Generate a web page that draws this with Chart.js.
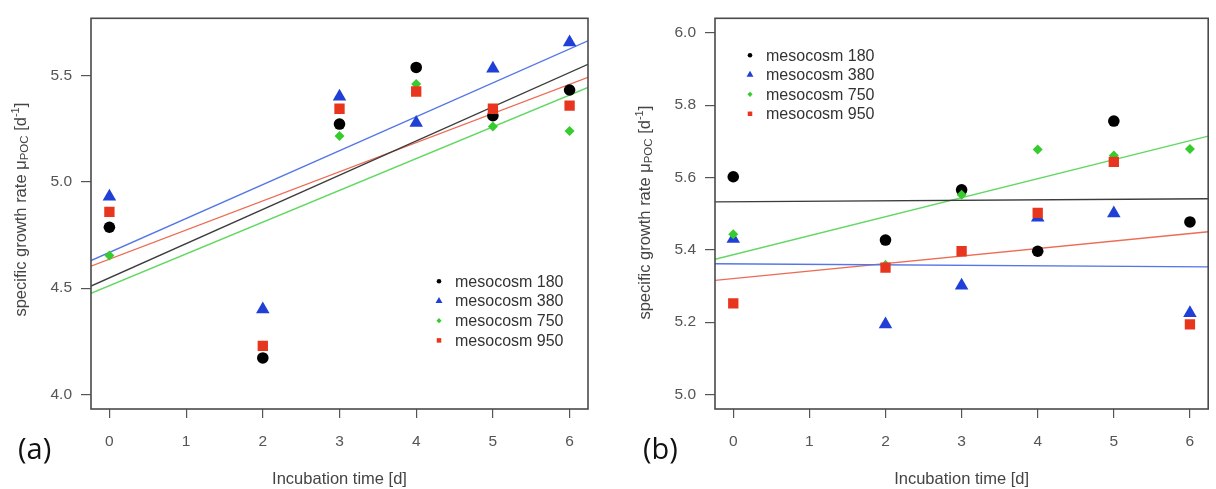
<!DOCTYPE html>
<html><head><meta charset="utf-8">
<script src="https://cdn.jsdelivr.net/npm/chart.js@4/dist/chart.umd.min.js"></script>
<style>
html,body{margin:0;padding:0;background:#fff;width:1216px;height:489px;overflow:hidden}
.panel{position:absolute;top:0;width:608px;height:489px}
#pa{left:0} #pb{left:608px}
.lab{position:absolute;font-family:"Open Sans";font-size:29px;color:#111;line-height:29px;white-space:nowrap}
</style></head><body>
<div class="panel" id="pa"><canvas id="ca" width="608" height="489"></canvas></div>
<div class="panel" id="pb"><canvas id="cb" width="608" height="489"></canvas></div>
<div class="lab" style="left:18px;top:433px">(a)</div>
<div class="lab" style="left:643px;top:433px">(b)</div>
<script>
// ---------- data ----------
const days = [0, 2, 3, 4, 5, 6];
const seriesNames = ['mesocosm 180', 'mesocosm 380', 'mesocosm 750', 'mesocosm 950'];
// panel (a)
const a180 = [4.786, 4.172, 5.271, 5.537, 5.310, 5.431];
const a380 = [4.930, 4.400, 5.400, 5.277, 5.532, 5.655];
const a750 = [4.653, 4.230, 5.215, 5.459, 5.260, 5.238];
const a950 = [4.858, 4.229, 5.343, 5.424, 5.343, 5.358];
// panel (b)
const b180 = [5.602, 5.427, 5.566, 5.396, 5.756, 5.477];
const b380 = [5.430, 5.194, 5.301, 5.489, 5.501, 5.225];
const b750 = [5.443, 5.358, 5.552, 5.677, 5.661, 5.679];
const b950 = [5.252, 5.351, 5.396, 5.502, 5.643, 5.194];
// axes
const xTicks = [0, 1, 2, 3, 4, 5, 6];
const aYTicks = [4.0, 4.5, 5.0, 5.5];
const bYTicks = [5.0, 5.2, 5.4, 5.6, 5.8, 6.0];
const xLim = [0, 6];
const aYLim = [4.0, 5.7];
const bYLim = [5.0, 6.0];
const xTitle = 'Incubation time [d]';

// ---------- styling ----------
const styles = [
  {color: '#000000', line: '#3c3c3c', shape: 'circle',   r: 5.8, lr: 2.3},
  {color: '#1f3fd6', line: '#5476e6', shape: 'triangle', r: 7.8, lr: 4.0},
  {color: '#36cc2e', line: '#62d862', shape: 'rectRot',  r: 5.0, lr: 2.6},
  {color: '#e8361e', line: '#ec6c56', shape: 'rect',     r: 7.3, lr: 3.2}
];
const FONT = '"Liberation Sans", Arial, sans-serif';
Chart.defaults.font.family = FONT;

function ext(lim){ const d = (lim[1]-lim[0])*0.04; return [lim[0]-d, lim[1]+d]; }
function fit(xs, ys){
  const n = xs.length;
  const mx = xs.reduce((s,v)=>s+v,0)/n, my = ys.reduce((s,v)=>s+v,0)/n;
  let sxy=0, sxx=0;
  for(let i=0;i<n;i++){ sxy += (xs[i]-mx)*(ys[i]-my); sxx += (xs[i]-mx)**2; }
  const b = sxy/sxx; return {a: my - b*mx, b};
}

function drawShape(ctx, shape, x, y, r){
  ctx.beginPath();
  if(shape==='circle'){ ctx.arc(x,y,r,0,Math.PI*2); }
  else if(shape==='triangle'){ ctx.moveTo(x, y-r); ctx.lineTo(x+r*0.866, y+r*0.5); ctx.lineTo(x-r*0.866, y+r*0.5); ctx.closePath(); }
  else if(shape==='rectRot'){ ctx.moveTo(x-r,y); ctx.lineTo(x,y-r); ctx.lineTo(x+r,y); ctx.lineTo(x,y+r); ctx.closePath(); }
  else { const s=r*0.7071; ctx.rect(x-s,y-s,2*s,2*s); }
  ctx.fill();
}

const deco = {
  id: 'deco',
  afterDatasetsDraw(chart, args, o){
    const ctx = chart.ctx, ca = chart.chartArea;
    ctx.save();
    // box
    ctx.strokeStyle = '#4a4a4a'; ctx.lineWidth = 1.6;
    ctx.strokeRect(ca.left, ca.top, ca.right-ca.left, ca.bottom-ca.top);
    // legend
    const pts = chart.data.datasets.filter(d => !d.showLine);
    ctx.font = '16px ' + FONT; ctx.textBaseline = 'middle'; ctx.textAlign = 'left';
    pts.forEach((d, i) => {
      const x = ca.left + o.legX, y = ca.top + o.legY + i*o.legStep;
      ctx.fillStyle = d.backgroundColor;
      drawShape(ctx, d.pointStyle, x, y, d.legendR);
      ctx.fillStyle = '#333';
      ctx.fillText(d.label, x + 16, y + 1);
    });
    // y title with sub/superscript
    const parts = [['specific growth rate \u03bc',16.5,0],['POC',11.5,4],[' [d',16.5,0],['-1',11,-5.5],[']',16.5,0]];
    let W = 0; const ws = parts.map(p => { ctx.font = p[1]+'px '+FONT; const w = ctx.measureText(p[0]).width; W += w; return w; });
    ctx.translate(o.titleX, (ca.top+ca.bottom)/2 + o.titleDY);
    ctx.rotate(-Math.PI/2);
    ctx.fillStyle = '#444';
    let x = -W/2;
    parts.forEach((p,i) => { ctx.font = p[1]+'px '+FONT; ctx.fillText(p[0], x, p[2]); x += ws[i]; });
    ctx.restore();
  }
};

function makeChart(id, ys, yLim, yTicks, yWidth, padRight, legend){
  const xl = ext(xLim), yl = ext(yLim);
  const pointSets = ys.map((arr, i) => ({
    label: seriesNames[i],
    data: days.map((d, j) => ({x: d, y: arr[j]})),
    pointStyle: styles[i].shape,
    pointRadius: styles[i].r,
    pointHoverRadius: styles[i].r,
    pointBorderWidth: 0,
    backgroundColor: styles[i].color,
    borderColor: styles[i].color,
    showLine: false,
    legendR: styles[i].lr,
    order: 4 - i
  }));
  const lineSets = ys.map((arr, i) => {
    const f = fit(days, arr);
    return {
      label: seriesNames[i] + ' fit',
      data: [{x: xl[0], y: f.a + f.b*xl[0]}, {x: xl[1], y: f.a + f.b*xl[1]}],
      showLine: true, pointRadius: 0, borderColor: styles[i].line, borderWidth: 1.4,
      backgroundColor: styles[i].line, order: 10
    };
  });
  return new Chart(document.getElementById(id), {
    type: 'scatter',
    data: {datasets: [...pointSets, ...lineSets]},
    options: {
      responsive: false, animation: false, devicePixelRatio: 1, events: [],
      layout: {padding: {top: 15, right: padRight, bottom: 0, left: 0}},
      plugins: {legend: {display: false}, tooltip: {enabled: false}, deco: legend},
      scales: {
        x: {
          type: 'linear', min: xl[0], max: xl[1], bounds: 'data',
          afterBuildTicks(s){ s.ticks = xTicks.map(v => ({value: v})); },
          afterFit(s){ s.height = 80; },
          grid: {drawOnChartArea: false, drawTicks: true, tickLength: 9, color: '#555', lineWidth: 1.2},
          border: {display: false},
          ticks: {padding: 14, color: '#555', font: {size: 15.5}, maxRotation: 0, autoSkip: false, callback: v => String(v)},
          title: {display: true, text: xTitle, color: '#444', font: {size: 16.5}, padding: {top: 0, bottom: 0}}
        },
        y: {
          type: 'linear', min: yl[0], max: yl[1], bounds: 'data',
          afterBuildTicks(s){ s.ticks = yTicks.map(v => ({value: v})); },
          afterFit(s){ s.width = yWidth; },
          grid: {drawOnChartArea: false, drawTicks: true, tickLength: 10, color: '#555', lineWidth: 1.2},
          border: {display: false},
          ticks: {padding: 9, color: '#555', font: {size: 15.5}, autoSkip: false, callback: v => Number(v).toFixed(1)}
        }
      }
    },
    plugins: [deco]
  });
}

makeChart('ca', [a180, a380, a750, a950], aYLim, aYTicks, 91, 20,
  {legX: 348, legY: 263, legStep: 19.7, titleX: 21, titleDY: -4});
makeChart('cb', [b180, b380, b750, b950], bYLim, bYTicks, 107, 3,
  {legX: 35, legY: 37, legStep: 19.5, titleX: 37, titleDY: -1});
</script>
</body></html>
